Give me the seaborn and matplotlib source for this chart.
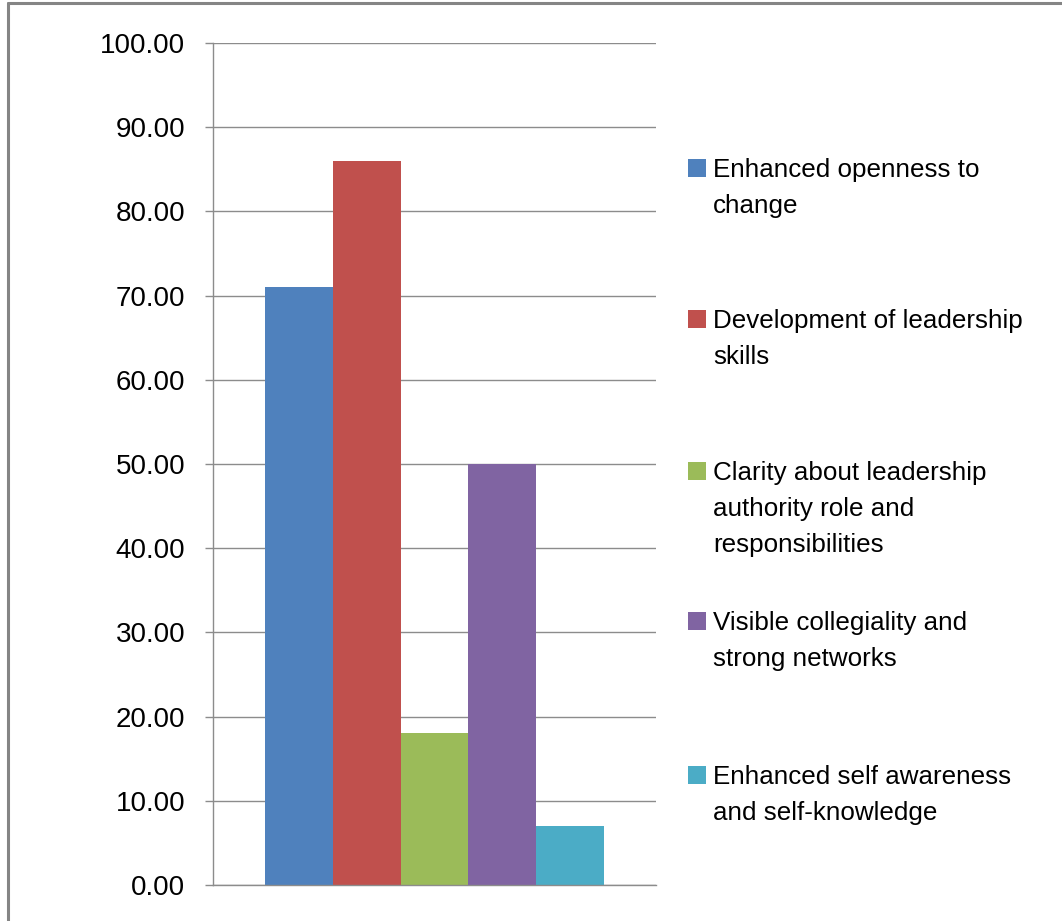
import pandas as pd
import seaborn as sns
import matplotlib.pyplot as plt
from matplotlib.lines import Line2D
from matplotlib.patches import Rectangle
from matplotlib.ticker import FuncFormatter

sns.set_style('white')
plt.rcParams['font.family'] = ['Liberation Sans', 'DejaVu Sans']

series = ['Enhanced openness to\nchange',
          'Development of leadership\nskills',
          'Clarity about leadership\nauthority role and\nresponsibilities',
          'Visible collegiality and\nstrong networks',
          'Enhanced self awareness\nand self-knowledge']
values = [71, 86, 18, 50, 7]
colors = ['#4F81BD', '#C0504D', '#9BBB59', '#8064A2', '#4BACC6']
yticks = list(range(0, 101, 10))

df = pd.DataFrame({'cat': [''] * len(series), 'series': series, 'value': values})

W, H = 1062, 921
fig = plt.figure(figsize=(W / 100, H / 100), dpi=100)
ax = fig.add_axes([213 / W, 1 - 885 / H, (656 - 213) / W, (885 - 43) / H])

sns.barplot(data=df, x='cat', y='value', hue='series', hue_order=series,
            palette=colors, saturation=1, width=0.765, linewidth=0,
            legend=False, ax=ax)

gray = '#8c8c8c'
ax.set_xlim(-0.5, 0.5)
ax.set_ylim(0, 100)
ax.set_yticks(yticks)
ax.yaxis.set_major_formatter(FuncFormatter(lambda v, p: f'{v:.2f}'))
ax.grid(axis='y', color=gray, linewidth=1.0)
ax.set_axisbelow(True)
ax.set_xlabel('')
ax.set_ylabel('')
ax.set_xticks([])
for s in ['top', 'right']:
    ax.spines[s].set_visible(False)
for s in ['left', 'bottom']:
    ax.spines[s].set_color(gray)
    ax.spines[s].set_linewidth(1.0)
ax.tick_params(axis='y', direction='out', length=5.8, width=1.0, color=gray,
               pad=14, left=True, labelcolor='black', labelsize=20)

# legend, Excel style: marker at the first line of each entry
tops = [159, 310, 462, 612, 766]
for lab, col, t in zip(series, colors, tops):
    fig.patches.append(Rectangle((688 / W, 1 - (t + 18) / H), 18 / W, 18 / H,
                                 transform=fig.transFigure, color=col, lw=0))
    fig.text(713 / W, 1 - (t - 1) / H, lab, fontsize=18.7, va='top',
             ha='left', linespacing=1.62, color='black')

# chart border
fig.add_artist(Line2D([7.5 / W, 1], [1 - 3.5 / H, 1 - 3.5 / H],
                      transform=fig.transFigure, color='#858585', lw=2.2))
fig.add_artist(Line2D([7.5 / W, 7.5 / W], [0, 1 - 3.5 / H],
                      transform=fig.transFigure, color='#858585', lw=2.2))

fig.savefig('out.png', dpi=100)
